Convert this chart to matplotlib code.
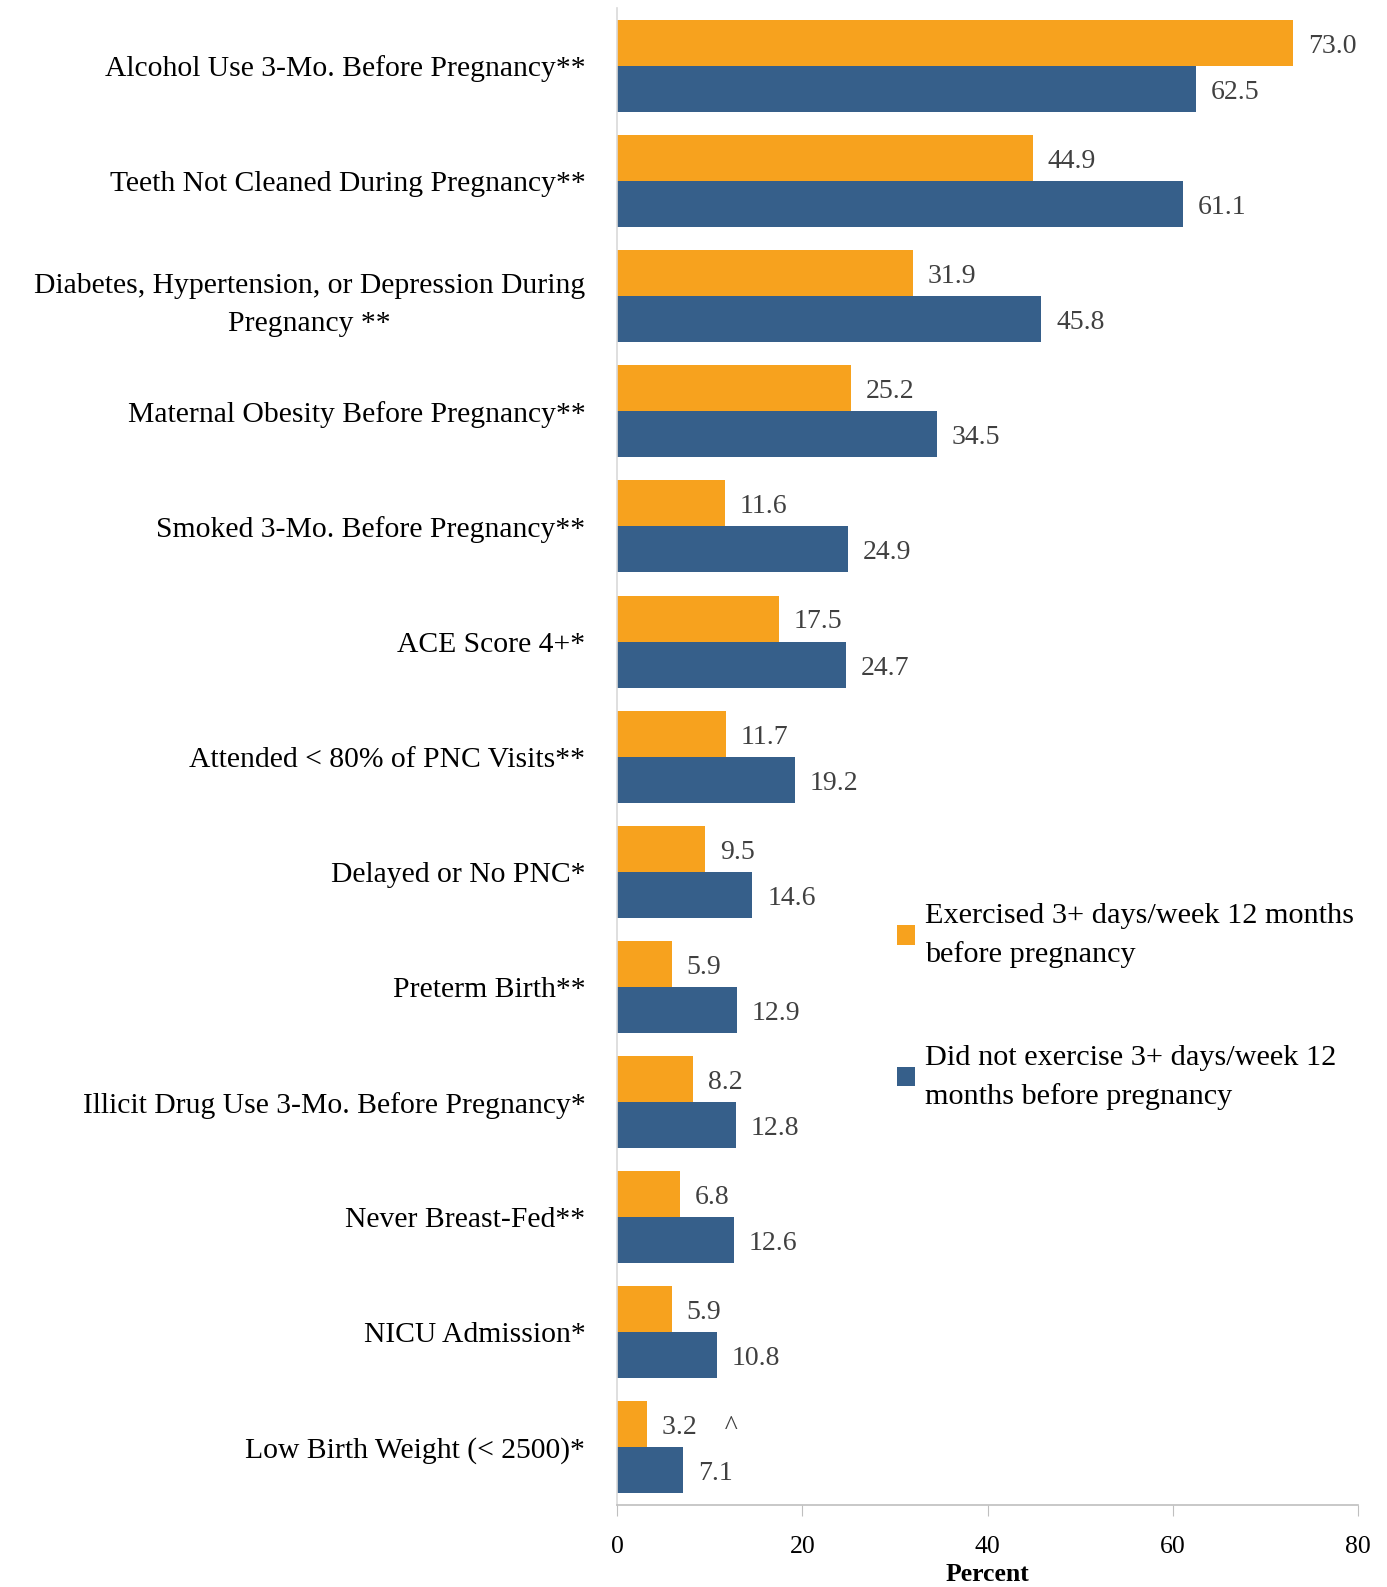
import matplotlib
matplotlib.use("Agg")
import matplotlib.pyplot as plt
import numpy as np

categories = [
    "Alcohol Use 3-Mo. Before Pregnancy**",
    "Teeth Not Cleaned During Pregnancy**",
    "Diabetes, Hypertension, or Depression During\nPregnancy **",
    "Maternal Obesity Before Pregnancy**",
    "Smoked 3-Mo. Before Pregnancy**",
    "ACE Score 4+*",
    "Attended < 80% of PNC Visits**",
    "Delayed or No PNC*",
    "Preterm Birth**",
    "Illicit Drug Use 3-Mo. Before Pregnancy*",
    "Never Breast-Fed**",
    "NICU Admission*",
    "Low Birth Weight (< 2500)*",
]
exercised = [73.0, 44.9, 31.9, 25.2, 11.6, 17.5, 11.7, 9.5, 5.9, 8.2, 6.8, 5.9, 3.2]
not_exercised = [62.5, 61.1, 45.8, 34.5, 24.9, 24.7, 19.2, 14.6, 12.9, 12.8, 12.6, 10.8, 7.1]
label_exercised = "Exercised 3+ days/week 12 months\nbefore pregnancy"
label_not = "Did not exercise 3+ days/week 12\nmonths before pregnancy"
flags_exercised = ["", "", "", "", "", "", "", "", "", "", "", "", "    ^"]
xticks = [0, 20, 40, 60, 80]

plt.rcParams["font.family"] = ["Liberation Serif", "DejaVu Serif"]

ORANGE = "#F7A21E"
BLUE = "#365F8A"

fig = plt.figure(figsize=(13.87, 15.87), dpi=100)
ax = fig.add_axes([0.445, 0.0517, 0.534, 0.943])

n = len(categories)
y = np.arange(n)
h = 0.4
b1 = ax.barh(y - h / 2, exercised, height=h, color=ORANGE, label=label_exercised)
b2 = ax.barh(y + h / 2, not_exercised, height=h, color=BLUE, label=label_not)

for rect, v, flag in zip(b1, exercised, flags_exercised):
    ax.text(rect.get_width() + 1.6, rect.get_y() + rect.get_height() / 2 + 0.03,
            f"{v:.1f}" + flag, va="center", ha="left", fontsize=20, color="#404040")
for rect, v in zip(b2, not_exercised):
    ax.text(rect.get_width() + 1.6, rect.get_y() + rect.get_height() / 2 + 0.03,
            f"{v:.1f}", va="center", ha="left", fontsize=20, color="#404040")

ax.set_ylim(n - 0.5, -0.5)
ax.set_xlim(0, 80)
ax.set_yticks(y)
ax.set_yticklabels(categories, fontsize=21.3, ha="right", multialignment="center")
for t in ax.get_yticklabels():
    t.set_linespacing(1.6)
ax.tick_params(axis="y", length=0, pad=23)
ax.set_xticks(xticks)
ax.set_xticklabels([str(t) for t in xticks], fontsize=18.5)
ax.tick_params(axis="x", direction="out", length=8, color="#BFBFBF", pad=14)
ax.set_xlabel("Percent", fontsize=18.5, fontweight="bold", labelpad=4)

for s in ["top", "right"]:
    ax.spines[s].set_visible(False)
ax.spines["left"].set_color("#D9D9D9")
ax.spines["bottom"].set_color("#BFBFBF")
ax.spines["left"].set_linewidth(1.2)
ax.spines["bottom"].set_linewidth(1.2)

leg = ax.legend(loc="upper left", bbox_to_anchor=(0.361, 0.41), frameon=False,
                fontsize=21.8, handlelength=0.6, handleheight=0.6,
                handletextpad=0.35, labelspacing=2.55, borderaxespad=0)
for t in leg.get_texts():
    t.set_linespacing(1.55)

fig.savefig("out.png", dpi=100, facecolor="white")
